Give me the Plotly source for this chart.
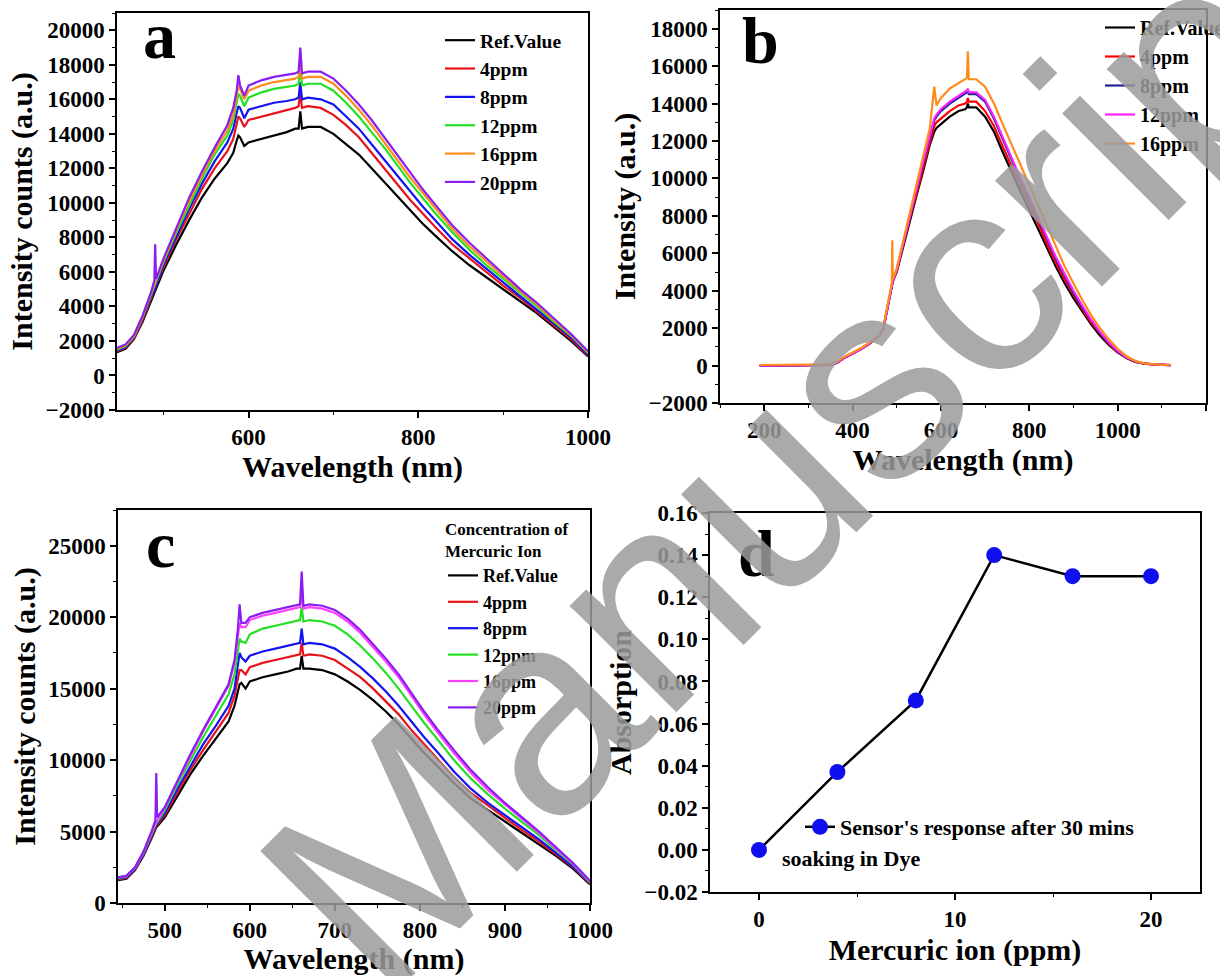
import plotly.graph_objects as go

# ---------------- Panel a data ----------------
WL_A = [445, 455, 465, 475, 485, 489, 490, 491, 500, 515, 530, 545, 560, 575, 582, 586, 588, 590, 595, 600,
        615, 630, 645, 655, 659, 661, 663, 670, 685, 700, 715, 730, 745, 760, 775, 790, 805, 820, 840, 860,
        880, 900, 920, 940, 960, 980, 1000]
A_REF = [1350, 1550, 2100, 3100, 4300, 4800, 4900, 4950, 6100, 7600, 9000, 10300, 11400, 12300, 12900, 13600, 13900, 13800, 13300, 13500,
         13700, 13900, 14100, 14300, 14300, 15300, 14300, 14400, 14400, 14000, 13400, 12800, 12000, 11200, 10400, 9600, 8800, 8100, 7200, 6400,
         5700, 5000, 4300, 3600, 2800, 2000, 1100]
A_4 = [1400, 1600, 2150, 3200, 4450, 4950, 5050, 5100, 6300, 7900, 9400, 10800, 12000, 13000, 13700, 14600, 15000, 14900, 14400, 14800,
       15000, 15200, 15400, 15500, 15600, 16400, 15500, 15600, 15500, 15100, 14500, 13800, 12900, 12000, 11100, 10200, 9400, 8600, 7600, 6800,
       6000, 5200, 4500, 3700, 2900, 2100, 1150]
A_8 = [1450, 1650, 2200, 3300, 4550, 5050, 5150, 5200, 6450, 8100, 9650, 11100, 12400, 13500, 14300, 15200, 15600, 15500, 14900, 15400,
       15600, 15800, 15900, 16000, 16100, 17000, 16000, 16100, 16000, 15700, 15000, 14300, 13400, 12500, 11600, 10700, 9800, 9000, 7900, 7000,
       6200, 5400, 4600, 3800, 3000, 2200, 1200]
A_12 = [1500, 1700, 2250, 3350, 4650, 5200, 5300, 5350, 6600, 8300, 9900, 11400, 12800, 13900, 14800, 15800, 16300, 16200, 15600, 16100,
        16400, 16600, 16700, 16800, 16900, 17900, 16800, 16900, 16900, 16500, 15800, 15000, 14100, 13200, 12200, 11200, 10300, 9400, 8300, 7300,
        6400, 5600, 4800, 4000, 3100, 2300, 1300]
A_16 = [1550, 1750, 2300, 3400, 4750, 5300, 5400, 5450, 6700, 8450, 10100, 11600, 13000, 14200, 15100, 16200, 16800, 16600, 16000, 16500,
        16800, 17000, 17100, 17200, 17300, 18300, 17200, 17300, 17300, 16900, 16200, 15400, 14500, 13500, 12500, 11500, 10600, 9700, 8500, 7500,
        6600, 5750, 4900, 4100, 3200, 2350, 1350]
A_20 = [1600, 1800, 2350, 3450, 4800, 5500, 7600, 5600, 6800, 8600, 10300, 11800, 13200, 14500, 15500, 16500, 17400, 16800, 16200, 16800,
        17100, 17300, 17400, 17500, 17600, 19000, 17500, 17600, 17600, 17200, 16500, 15700, 14800, 13800, 12800, 11800, 10800, 9900, 8700, 7700,
        6800, 5900, 5000, 4200, 3300, 2400, 1400]

# ---------------- Panel b data ----------------
WL_B = [190, 250, 300, 350, 365, 380, 400, 420, 440, 460, 470, 480, 489, 490, 491, 500, 515, 530, 545, 560,
        575, 585, 590, 600, 620, 640, 655, 659, 661, 663, 680, 700, 720, 740, 760, 780, 800, 820, 840, 860,
        880, 900, 920, 940, 960, 980, 1000, 1020, 1040, 1060, 1080, 1100, 1120]
B_REF = [0, 20, 30, 40, 150, 400, 650, 900, 1200, 1600, 2000, 3200, 4300, 4400, 4500, 5000, 6400, 7800, 9100, 10400,
         11800, 12500, 12700, 12900, 13300, 13600, 13700, 13800, 14000, 13800, 13800, 13300, 12500, 11400, 10300, 9300, 8300, 7300, 6300, 5300,
         4400, 3600, 2900, 2200, 1600, 1100, 700, 400, 200, 100, 60, 30, 20]
B_4 = [0, 20, 30, 40, 150, 400, 650, 900, 1200, 1600, 2000, 3200, 4300, 4400, 4500, 5050, 6500, 7900, 9200, 10600,
       12000, 12800, 13000, 13200, 13600, 13900, 14000, 14100, 14300, 14100, 14100, 13600, 12800, 11700, 10600, 9600, 8600, 7600, 6500, 5500,
       4600, 3800, 3000, 2300, 1700, 1150, 720, 420, 210, 100, 60, 30, 20]
B_8 = [0, 20, 30, 40, 150, 400, 650, 900, 1200, 1600, 2000, 3200, 4300, 4400, 4500, 5100, 6600, 8000, 9400, 10800,
       12200, 13100, 13300, 13600, 14000, 14300, 14500, 14600, 14700, 14500, 14500, 14100, 13200, 12100, 11000, 9900, 8900, 7800, 6700, 5700,
       4800, 3900, 3100, 2400, 1750, 1200, 750, 430, 220, 110, 60, 30, 20]
B_12 = [0, 20, 30, 40, 150, 400, 650, 900, 1200, 1600, 2000, 3200, 4300, 4400, 4500, 5100, 6600, 8050, 9450, 10900,
        12300, 13200, 13400, 13700, 14100, 14400, 14600, 14700, 14800, 14600, 14600, 14200, 13300, 12200, 11100, 10000, 9000, 7900, 6800, 5800,
        4900, 4000, 3200, 2450, 1800, 1250, 780, 440, 230, 110, 60, 30, 20]
B_16 = [30, 40, 50, 60, 200, 450, 700, 950, 1250, 1650, 2100, 3300, 4400, 6700, 4600, 5200, 6700, 8200, 9700, 11200,
        12700, 14900, 13900, 14300, 14800, 15100, 15300, 15400, 16800, 15300, 15300, 14900, 14000, 12900, 11800, 10700, 9600, 8500, 7400, 6300,
        5300, 4400, 3500, 2700, 2000, 1400, 900, 500, 250, 120, 70, 40, 30]

# ---------------- Panel c data ----------------
WL_C = WL_A
C_REF = [1600, 1700, 2300, 3300, 4600, 5200, 5300, 5350, 6000, 7500, 9000, 10300, 11500, 12700, 13800, 14800, 15300, 15400, 15000, 15500,
         15800, 16000, 16200, 16400, 16400, 17300, 16400, 16400, 16300, 16000, 15500, 14900, 14200, 13400, 12500, 11500, 10500, 9600, 8400, 7300,
         6500, 5700, 4900, 4100, 3300, 2400, 1300]
C_4 = [1650, 1750, 2350, 3350, 4700, 5300, 5400, 5450, 6150, 7750, 9300, 10700, 12000, 13300, 14500, 15700, 16300, 16300, 16000, 16500,
       16800, 17000, 17200, 17300, 17400, 18200, 17300, 17400, 17300, 17000, 16400, 15800, 15000, 14100, 13200, 12100, 11100, 10100, 8800, 7700,
       6800, 5950, 5100, 4300, 3400, 2500, 1350]
C_8 = [1700, 1800, 2400, 3400, 4800, 5400, 5500, 5550, 6300, 8000, 9600, 11100, 12400, 13800, 15000, 16600, 17500, 17200, 16900, 17300,
       17600, 17800, 18000, 18100, 18200, 19200, 18100, 18200, 18100, 17800, 17200, 16500, 15700, 14800, 13800, 12700, 11600, 10600, 9200, 8000,
       7000, 6150, 5300, 4450, 3500, 2550, 1400]
C_12 = [1750, 1850, 2450, 3500, 4900, 5500, 5600, 5650, 6500, 8300, 10000, 11600, 13100, 14600, 16000, 17800, 18500, 18300, 18200, 18800,
        19200, 19400, 19600, 19700, 19800, 20700, 19700, 19800, 19700, 19400, 18800, 18000, 17100, 16100, 15000, 13800, 12600, 11500, 10000, 8700,
        7600, 6600, 5700, 4750, 3700, 2700, 1450]
C_16 = [1800, 1900, 2500, 3550, 5000, 5600, 5700, 5750, 6650, 8500, 10300, 12000, 13600, 15200, 16800, 18800, 19600, 19300, 19300, 19800,
        20100, 20300, 20500, 20600, 20700, 21600, 20600, 20700, 20600, 20300, 19700, 18900, 17900, 16900, 15800, 14500, 13200, 12000, 10500, 9100,
        7900, 6900, 5900, 4900, 3800, 2750, 1500]
C_20 = [1800, 1900, 2500, 3600, 5100, 5800, 9100, 6000, 6700, 8600, 10400, 12100, 13700, 15300, 17000, 19200, 20900, 19600, 19600, 20000,
        20300, 20500, 20700, 20800, 20900, 23200, 20800, 20900, 20800, 20500, 19900, 19100, 18100, 17100, 16000, 14700, 13400, 12200, 10700, 9300,
        8100, 7000, 6000, 5000, 3900, 2800, 1550]

# ---------------- Panel d data ----------------
D_X = [0, 4, 8, 12, 16, 20]
D_Y = [0.0, 0.037, 0.071, 0.140, 0.130, 0.130]

NAMES_A = ["Ref.Value", "4ppm", "8ppm", "12ppm", "16ppm", "20ppm"]
NAMES_B = ["Ref.Value", "4ppm", "8ppm", "12ppm", "16ppm"]
COL_A = ["#000000", "#e8121a", "#1414f0", "#22e022", "#ff8c1a", "#8a1ef0"]
COL_B = ["#000000", "#ff0000", "#20209a", "#ff20ff", "#ff8c1a"]
COL_C = ["#000000", "#e8121a", "#1414f0", "#22e022", "#ff40ff", "#8a1ef0"]

FONT = "Liberation Serif"
W, H = 1220, 976

def px(x):
    return x / W

def py(y):
    return 1 - y / H

fig = go.Figure()

for name, col, ys in zip(NAMES_A, COL_A, [A_REF, A_4, A_8, A_12, A_16, A_20]):
    fig.add_trace(go.Scatter(x=WL_A, y=ys, mode="lines", name=name, line=dict(color=col, width=2.2),
                             xaxis="x", yaxis="y", legend="legend"))
for name, col, ys in zip(NAMES_B, COL_B, [B_REF, B_4, B_8, B_12, B_16]):
    fig.add_trace(go.Scatter(x=WL_B, y=ys, mode="lines", name=name, line=dict(color=col, width=2.2),
                             xaxis="x2", yaxis="y2", legend="legend2"))
for name, col, ys in zip(NAMES_A, COL_C, [C_REF, C_4, C_8, C_12, C_16, C_20]):
    fig.add_trace(go.Scatter(x=WL_C, y=ys, mode="lines", name=name, line=dict(color=col, width=2.2),
                             xaxis="x3", yaxis="y3", legend="legend3"))
fig.add_trace(go.Scatter(x=D_X, y=D_Y, mode="lines+markers", name="Sensor's response after 30 mins",
                         line=dict(color="black", width=2.5),
                         marker=dict(color="#1010ee", size=16, line=dict(width=0)),
                         xaxis="x4", yaxis="y4", legend="legend4"))

tickfont = dict(family=FONT, size=23, color="black", weight="bold")
titlefont = dict(family=FONT, size=30, color="black", weight="bold")

def ax(domain, rng, dtick, minor, title, standoff, fmt="d"):
    return dict(domain=domain, range=rng, dtick=dtick, tick0=0, ticks="outside", ticklen=6, tickwidth=1.5,
                tickcolor="black", showline=True, linecolor="black", linewidth=1.5, mirror=True,
                showgrid=False, zeroline=False, tickfont=tickfont, tickformat=fmt, automargin=False,
                minor=dict(dtick=minor, ticks="outside", ticklen=3.5, tickwidth=1.2, tickcolor="black", showgrid=False),
                title=dict(text=title, font=titlefont, standoff=standoff))

layout = dict(width=W, height=H, margin=dict(l=0, r=0, t=0, b=0, autoexpand=False),
              paper_bgcolor="white", plot_bgcolor="white", showlegend=True)

layout["xaxis"] = ax([px(117), px(588)], [445, 1000], 200, 100, "Wavelength (nm)", 4)
layout["yaxis"] = ax([py(410), py(13)], [-2000, 21000], 2000, 1000, "Intensity counts (a.u.)", 4)
layout["xaxis"]["anchor"] = "y"
layout["yaxis"]["anchor"] = "x"

layout["xaxis2"] = ax([px(720), px(1206)], [100, 1200], 200, 100, "Wavelength (nm)", 4)
layout["yaxis2"] = ax([py(403), py(10)], [-2000, 19000], 2000, 1000, "Intensity (a.u.)", 4)
layout["xaxis2"]["anchor"] = "y2"
layout["yaxis2"]["anchor"] = "x2"

layout["xaxis3"] = ax([px(118), px(590)], [445, 1000], 100, 50, "Wavelength (nm)", 4)
layout["yaxis3"] = ax([py(903), py(510)], [0, 27500], 5000, 2500, "Intensity counts (a.u.)", 4)
layout["xaxis3"]["anchor"] = "y3"
layout["yaxis3"]["anchor"] = "x3"

layout["xaxis4"] = ax([px(710), px(1200)], [-2.5, 22.5], 10, 5, "Mercuric ion (ppm)", 8)
layout["yaxis4"] = ax([py(892), py(513)], [-0.02, 0.16], 0.02, 0.01, "Absorption", 4, ".2f")
layout["xaxis4"]["anchor"] = "y4"
layout["yaxis4"]["anchor"] = "x4"

def leg(x, y, size, **kw):
    return dict(x=px(x), y=py(y), font=dict(family=FONT, size=size, color="black", weight="bold"),
                bgcolor="rgba(0,0,0,0)", borderwidth=0, xanchor="left", yanchor="top",
                itemwidth=30, tracegroupgap=0, **kw)

layout["legend"] = leg(440, 21, 19.5)
layout["legend2"] = leg(1100, 8, 20)
layout["legend3"] = leg(443, 513, 18, title=dict(text="Concentration of<br>Mercuric Ion",
                        font=dict(family=FONT, size=17, color="black", weight="bold")))
layout["legend4"] = leg(800, 806, 22)

fig.update_layout(**layout)

# Panel letters
for txt, xx, yy in [("a", 159, 35), ("b", 760, 40), ("c", 160, 544), ("d", 757, 553)]:
    fig.add_annotation(text=txt, x=px(xx), y=py(yy), xref="paper", yref="paper", showarrow=False,
                       xanchor="center", yanchor="middle",
                       font=dict(family=FONT, size=66, color="black", weight="bold"))

fig.add_annotation(text="soaking in Dye", x=px(780), y=py(858), xref="paper", yref="paper", showarrow=False,
                   xanchor="left", yanchor="middle", font=dict(family=FONT, size=22, color="black", weight="bold"))

# Watermark
fig.add_annotation(text="Manuscript", x=px(806), y=py(444), xref="paper", yref="paper", showarrow=False,
                   xanchor="center", yanchor="middle", textangle=-45,
                   font=dict(family="Liberation Sans", size=285, color="rgba(155,155,155,0.85)"))

fig.write_html("out.html", config={"displayModeBar": False},
               post_script="document.body.style.margin='0px';document.body.style.overflow='hidden';")
